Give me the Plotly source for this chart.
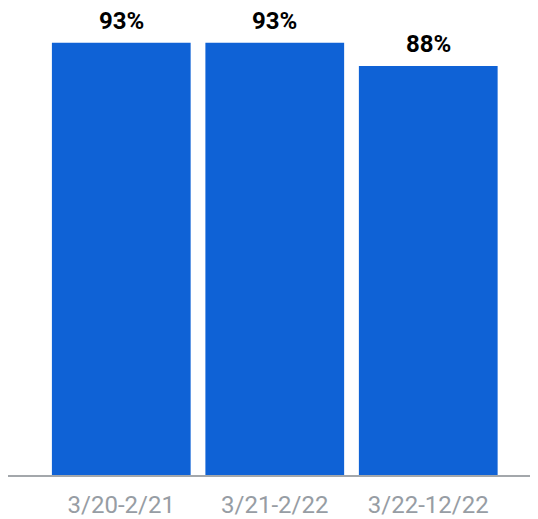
import plotly.graph_objects as go

categories = ["3/20-2/21", "3/21-2/22", "3/22-12/22"]
values = [93, 93, 88]
labels = ["93%", "93%", "88%"]

BAR = "#0F62D6"

fig = go.Figure()
fig.add_trace(go.Bar(
    x=categories, y=values, marker=dict(color=BAR, line=dict(width=0)),
    width=0.904, hoverinfo="skip",
))
for c, v, t in zip(categories, values, labels):
    fig.add_annotation(x=c, y=v, text="<b>%s</b>" % t, showarrow=False,
                       yanchor="middle", yshift=22,
                       font=dict(family="Roboto", size=24, color="#000000"))

fig.update_layout(
    width=530, height=511,
    margin=dict(l=0, r=0, t=0, b=44),
    paper_bgcolor="white", plot_bgcolor="white",
    showlegend=False,
    xaxis=dict(type="category", range=[-0.738, 2.715], showgrid=False,
               showline=True, linecolor="#A3A7AB", linewidth=1.5,
               ticks="", ticklabelstandoff=7,
               tickfont=dict(family="Roboto", size=24, color="#979DA4")),
    yaxis=dict(range=[0, 100.47], visible=False, showgrid=False, zeroline=False),
)
fig.write_html("out.html")
